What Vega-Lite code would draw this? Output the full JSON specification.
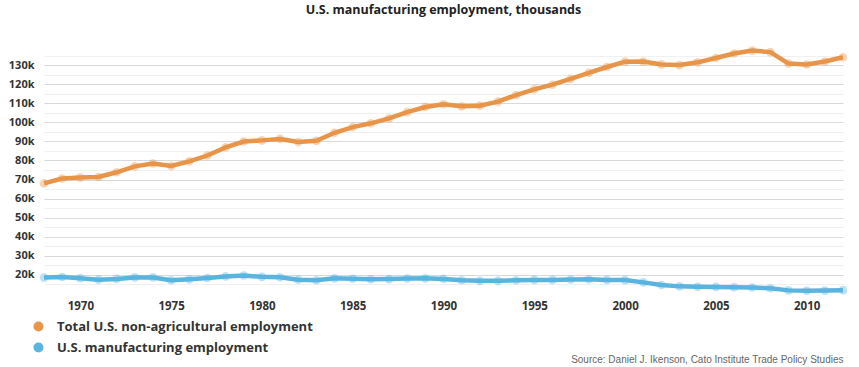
{
  "$schema": "https://vega.github.io/schema/vega-lite/v6.json",
  "width": 799,
  "height": 248,
  "autosize": {"type": "none"},
  "padding": {"left": 44, "top": 46, "right": 16, "bottom": 73},
  "background": "white",
  "title": {
    "text": "U.S. manufacturing employment, thousands",
    "fontSize": 12.5,
    "fontWeight": "bold",
    "font": "Open Sans",
    "color": "#222222",
    "anchor": "middle",
    "offset": 25
  },
  "config": {
    "view": {"stroke": null},
    "font": "Open Sans"
  },
  "data": {
    "values": [
      {"year": 1968, "series": "Total U.S. non-agricultural employment", "value": 67951},
      {"year": 1969, "series": "Total U.S. non-agricultural employment", "value": 70512},
      {"year": 1970, "series": "Total U.S. non-agricultural employment", "value": 71006},
      {"year": 1971, "series": "Total U.S. non-agricultural employment", "value": 71335},
      {"year": 1972, "series": "Total U.S. non-agricultural employment", "value": 73798},
      {"year": 1973, "series": "Total U.S. non-agricultural employment", "value": 76912},
      {"year": 1974, "series": "Total U.S. non-agricultural employment", "value": 78389},
      {"year": 1975, "series": "Total U.S. non-agricultural employment", "value": 77069},
      {"year": 1976, "series": "Total U.S. non-agricultural employment", "value": 79502},
      {"year": 1977, "series": "Total U.S. non-agricultural employment", "value": 82593},
      {"year": 1978, "series": "Total U.S. non-agricultural employment", "value": 86826},
      {"year": 1979, "series": "Total U.S. non-agricultural employment", "value": 89932},
      {"year": 1980, "series": "Total U.S. non-agricultural employment", "value": 90528},
      {"year": 1981, "series": "Total U.S. non-agricultural employment", "value": 91289},
      {"year": 1982, "series": "Total U.S. non-agricultural employment", "value": 89677},
      {"year": 1983, "series": "Total U.S. non-agricultural employment", "value": 90280},
      {"year": 1984, "series": "Total U.S. non-agricultural employment", "value": 94530},
      {"year": 1985, "series": "Total U.S. non-agricultural employment", "value": 97511},
      {"year": 1986, "series": "Total U.S. non-agricultural employment", "value": 99474},
      {"year": 1987, "series": "Total U.S. non-agricultural employment", "value": 102088},
      {"year": 1988, "series": "Total U.S. non-agricultural employment", "value": 105345},
      {"year": 1989, "series": "Total U.S. non-agricultural employment", "value": 108014},
      {"year": 1990, "series": "Total U.S. non-agricultural employment", "value": 109487},
      {"year": 1991, "series": "Total U.S. non-agricultural employment", "value": 108375},
      {"year": 1992, "series": "Total U.S. non-agricultural employment", "value": 108726},
      {"year": 1993, "series": "Total U.S. non-agricultural employment", "value": 110844},
      {"year": 1994, "series": "Total U.S. non-agricultural employment", "value": 114291},
      {"year": 1995, "series": "Total U.S. non-agricultural employment", "value": 117298},
      {"year": 1996, "series": "Total U.S. non-agricultural employment", "value": 119708},
      {"year": 1997, "series": "Total U.S. non-agricultural employment", "value": 122776},
      {"year": 1998, "series": "Total U.S. non-agricultural employment", "value": 125930},
      {"year": 1999, "series": "Total U.S. non-agricultural employment", "value": 128993},
      {"year": 2000, "series": "Total U.S. non-agricultural employment", "value": 131785},
      {"year": 2001, "series": "Total U.S. non-agricultural employment", "value": 131826},
      {"year": 2002, "series": "Total U.S. non-agricultural employment", "value": 130341},
      {"year": 2003, "series": "Total U.S. non-agricultural employment", "value": 129999},
      {"year": 2004, "series": "Total U.S. non-agricultural employment", "value": 131435},
      {"year": 2005, "series": "Total U.S. non-agricultural employment", "value": 133703},
      {"year": 2006, "series": "Total U.S. non-agricultural employment", "value": 136086},
      {"year": 2007, "series": "Total U.S. non-agricultural employment", "value": 137598},
      {"year": 2008, "series": "Total U.S. non-agricultural employment", "value": 136790},
      {"year": 2009, "series": "Total U.S. non-agricultural employment", "value": 130807},
      {"year": 2010, "series": "Total U.S. non-agricultural employment", "value": 130275},
      {"year": 2011, "series": "Total U.S. non-agricultural employment", "value": 131842},
      {"year": 2012, "series": "Total U.S. non-agricultural employment", "value": 134104},
      {"year": 1968, "series": "U.S. manufacturing employment", "value": 18600},
      {"year": 1969, "series": "U.S. manufacturing employment", "value": 18900},
      {"year": 1970, "series": "U.S. manufacturing employment", "value": 18300},
      {"year": 1971, "series": "U.S. manufacturing employment", "value": 17500},
      {"year": 1972, "series": "U.S. manufacturing employment", "value": 17900},
      {"year": 1973, "series": "U.S. manufacturing employment", "value": 18700},
      {"year": 1974, "series": "U.S. manufacturing employment", "value": 18700},
      {"year": 1975, "series": "U.S. manufacturing employment", "value": 17200},
      {"year": 1976, "series": "U.S. manufacturing employment", "value": 17700},
      {"year": 1977, "series": "U.S. manufacturing employment", "value": 18400},
      {"year": 1978, "series": "U.S. manufacturing employment", "value": 19200},
      {"year": 1979, "series": "U.S. manufacturing employment", "value": 19700},
      {"year": 1980, "series": "U.S. manufacturing employment", "value": 19000},
      {"year": 1981, "series": "U.S. manufacturing employment", "value": 18800},
      {"year": 1982, "series": "U.S. manufacturing employment", "value": 17500},
      {"year": 1983, "series": "U.S. manufacturing employment", "value": 17200},
      {"year": 1984, "series": "U.S. manufacturing employment", "value": 18200},
      {"year": 1985, "series": "U.S. manufacturing employment", "value": 18000},
      {"year": 1986, "series": "U.S. manufacturing employment", "value": 17700},
      {"year": 1987, "series": "U.S. manufacturing employment", "value": 17800},
      {"year": 1988, "series": "U.S. manufacturing employment", "value": 18100},
      {"year": 1989, "series": "U.S. manufacturing employment", "value": 18200},
      {"year": 1990, "series": "U.S. manufacturing employment", "value": 17900},
      {"year": 1991, "series": "U.S. manufacturing employment", "value": 17200},
      {"year": 1992, "series": "U.S. manufacturing employment", "value": 16900},
      {"year": 1993, "series": "U.S. manufacturing employment", "value": 16900},
      {"year": 1994, "series": "U.S. manufacturing employment", "value": 17200},
      {"year": 1995, "series": "U.S. manufacturing employment", "value": 17400},
      {"year": 1996, "series": "U.S. manufacturing employment", "value": 17400},
      {"year": 1997, "series": "U.S. manufacturing employment", "value": 17600},
      {"year": 1998, "series": "U.S. manufacturing employment", "value": 17700},
      {"year": 1999, "series": "U.S. manufacturing employment", "value": 17400},
      {"year": 2000, "series": "U.S. manufacturing employment", "value": 17300},
      {"year": 2001, "series": "U.S. manufacturing employment", "value": 16100},
      {"year": 2002, "series": "U.S. manufacturing employment", "value": 14700},
      {"year": 2003, "series": "U.S. manufacturing employment", "value": 14000},
      {"year": 2004, "series": "U.S. manufacturing employment", "value": 13800},
      {"year": 2005, "series": "U.S. manufacturing employment", "value": 13700},
      {"year": 2006, "series": "U.S. manufacturing employment", "value": 13600},
      {"year": 2007, "series": "U.S. manufacturing employment", "value": 13400},
      {"year": 2008, "series": "U.S. manufacturing employment", "value": 13000},
      {"year": 2009, "series": "U.S. manufacturing employment", "value": 11900},
      {"year": 2010, "series": "U.S. manufacturing employment", "value": 11700},
      {"year": 2011, "series": "U.S. manufacturing employment", "value": 11800},
      {"year": 2012, "series": "U.S. manufacturing employment", "value": 12000}
    ]
  },
  "encoding": {
    "x": {
      "field": "year",
      "type": "quantitative",
      "scale": {"domain": [1968, 2012], "nice": false, "zero": false},
      "axis": {
        "values": [1970, 1975, 1980, 1985, 1990, 1995, 2000, 2005, 2010],
        "format": "d",
        "grid": false,
        "domain": false,
        "ticks": false,
        "labelFont": "Open Sans",
        "labelFontSize": 11.5,
        "labelFontWeight": "bold",
        "labelColor": "#333333",
        "labelPadding": 6,
        "title": "Source: Daniel J. Ikenson, Cato Institute Trade Policy Studies",
        "titleAnchor": "end",
        "titleFont": "Arial",
        "titleFontSize": 10,
        "titleFontWeight": "normal",
        "titleColor": "#666666",
        "titlePadding": 43
      }
    },
    "y": {
      "field": "value",
      "type": "quantitative",
      "scale": {"domain": [10000, 140000], "nice": false, "zero": false},
      "axis": {
        "values": [15000, 20000, 25000, 30000, 35000, 40000, 45000, 50000, 55000, 60000, 65000, 70000, 75000, 80000, 85000, 90000, 95000, 100000, 105000, 110000, 115000, 120000, 125000, 130000, 135000],
        "labelExpr": "datum.value % 10000 === 0 && datum.value >= 20000 ? format(datum.value / 1000, 'd') + 'k' : ''",
        "grid": true,
        "gridColor": {"condition": {"test": "datum.value % 10000 === 0", "value": "#d9d9d9"}, "value": "#f0f0f0"},
        "gridWidth": 1,
        "domain": false,
        "ticks": false,
        "labelFont": "Open Sans",
        "labelFontSize": 11,
        "labelFontWeight": "bold",
        "labelColor": "#333333",
        "labelPadding": 10,
        "title": null
      }
    },
    "color": {
      "field": "series",
      "type": "nominal",
      "scale": {
        "domain": ["Total U.S. non-agricultural employment", "U.S. manufacturing employment"],
        "range": ["#e8954a", "#5ab4e0"]
      },
      "legend": {
        "orient": "none",
        "legendX": -12,
        "legendY": 274,
        "title": null,
        "symbolType": "circle",
        "symbolSize": 100,
        "symbolOpacity": 1,
        "symbolStrokeWidth": 0,
        "labelFont": "Open Sans",
        "labelFontSize": 13,
        "labelFontWeight": "bold",
        "labelColor": "#333333",
        "labelOffset": 12,
        "labelLimit": 0,
        "rowPadding": 7
      }
    }
  },
  "layer": [
    {
      "mark": {"type": "line", "strokeWidth": 4.5, "interpolate": "linear"}
    },
    {
      "mark": {"type": "point", "filled": true, "size": 75, "opacity": 0.4}
    }
  ]
}
